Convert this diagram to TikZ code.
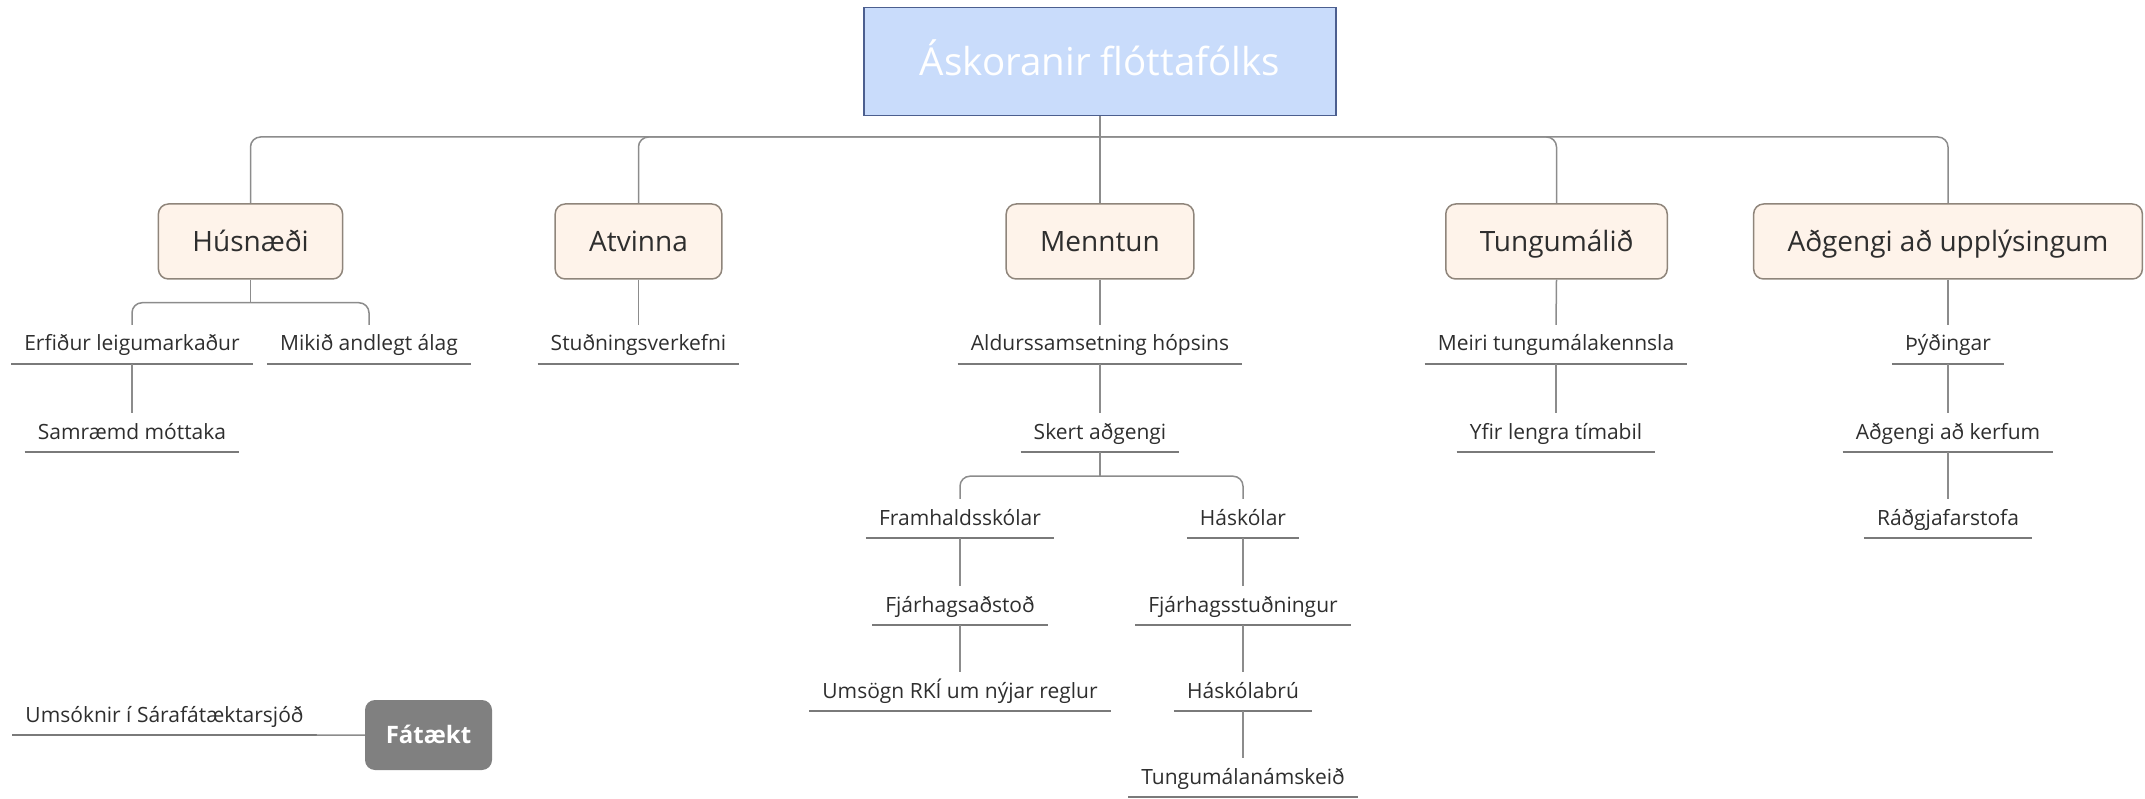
\documentclass[tikz,border=0pt]{standalone}
\usepackage{fontspec}
\setmainfont{Open Sans}
\definecolor{catfill}{HTML}{FEF3EA}
\definecolor{catborder}{HTML}{8F857B}
\definecolor{titlefill}{HTML}{C9DCFB}
\definecolor{titleborder}{HTML}{4C5F8F}
\definecolor{connc}{HTML}{8C8C8C}
\definecolor{ulc}{HTML}{7A7A7A}
\definecolor{txt}{HTML}{2E2E2E}
\definecolor{fatfill}{HTML}{808080}
\begin{document}
\begin{tikzpicture}[x=1pt,y=-1pt,
  titlebox/.style={draw=titleborder, fill=titlefill, line width=1.5pt, minimum width=472pt, minimum height=108pt,
    text=white, font={\fontsize{38.5}{44}\selectfont}, text height=33pt, text depth=5.5pt},
  cat/.style={draw=catborder, fill=catfill, rounded corners=10pt, line width=1.5pt, minimum height=75pt,
    inner xsep=34pt, text=txt, font={\fontsize{28}{33}\selectfont}, text height=25pt, text depth=5pt},
  leaf/.style={inner xsep=13pt, inner ysep=6pt, text height=20pt, text depth=7pt, text=txt,
    font={\fontsize{21}{25}\selectfont}},
  fatbox/.style={fill=fatfill, rounded corners=10pt, minimum width=127pt, minimum height=70pt,
    text=white, font={\fontsize{24}{28}\selectfont\bfseries}, text height=20pt, text depth=3pt},
  conn/.style={draw=connc, line width=1.5pt},
  bconn/.style={conn, rounded corners=10pt},
  uline/.style={draw=ulc, line width=2.5pt}]
\useasboundingbox (0,0) rectangle (2145,799);

% title and categories
\node[titlebox] (title) at (1100,61.5) {Áskoranir flóttafólks};
\coordinate (j) at (1100,137);
\node[cat] (hus) at (250.5,241.5) {Húsnæði};
\node[cat] (atv) at (638.5,241.5) {Atvinna};
\node[cat] (men) at (1100,241.5) {Menntun};
\node[cat] (tun) at (1556.5,241.5) {Tungumálið};
\node[cat] (adg) at (1948,241.5) {Aðgengi að upplýsingum};

% leaves
\node[leaf] (e1) at (132,344.5) {Erfiður leigumarkaður};
\node[leaf] (e2) at (369,344.5) {Mikið andlegt álag};
\node[leaf] (e3) at (132,432.5) {Samræmd móttaka};
\node[leaf] (a1) at (638.5,344.5) {Stuðningsverkefni};
\node[leaf] (m1) at (1100,344.5) {Aldurssamsetning hópsins};
\node[leaf] (m2) at (1100,432.5) {Skert aðgengi};
\node[leaf] (f1) at (960,518.5) {Framhaldsskólar};
\node[leaf] (f2) at (960,605.5) {Fjárhagsaðstoð};
\node[leaf] (f3) at (960,691.5) {Umsögn RKÍ um nýjar reglur};
\node[leaf] (h1) at (1243,518.5) {Háskólar};
\node[leaf] (h2) at (1243,605.5) {Fjárhagsstuðningur};
\node[leaf] (h3) at (1243,691.5) {Háskólabrú};
\node[leaf] (h4) at (1243,777.5) {Tungumálanámskeið};
\node[leaf] (t1) at (1556,344.5) {Meiri tungumálakennsla};
\node[leaf] (t2) at (1556,432.5) {Yfir lengra tímabil};
\node[leaf] (u1) at (1948,344.5) {Þýðingar};
\node[leaf] (u2) at (1948,432.5) {Aðgengi að kerfum};
\node[leaf] (u3) at (1948,518.5) {Ráðgjafarstofa};
\node[leaf] (p1) at (164.5,715.5) {Umsóknir í Sárafátæktarsjóð};
\node[fatbox] (fat) at (428.5,735) {Fátækt};

\foreach \n in {e1,e2,e3,a1,m1,m2,f1,f2,f3,h1,h2,h3,h4,t1,t2,u1,u2,u3,p1}
  \draw[uline] (\n.south west) -- (\n.south east);

% connectors from title
\draw[conn] (title.south) -- (j);
\foreach \c in {hus,atv,tun,adg}
  \draw[bconn] (j) -| (\c.north);
\draw[conn] (j) -- (men.north);

% Husnaedi
\draw[conn] (hus.south) -- ++(0,23) coordinate (hj);
\draw[bconn] (hj) -| (e1.north);
\draw[bconn] (hj) -| (e2.north);
\draw[conn] (e1.south) -- (e3.north);

% Atvinna
\draw[conn] (atv.south) -- (a1.north);

% Menntun
\draw[conn] (men.south) -- (m1.north);
\draw[conn] (m1.south) -- (m2.north);
\draw[conn] (m2.south) -- ++(0,24) coordinate (mj);
\draw[bconn] (mj) -| (f1.north);
\draw[bconn] (mj) -| (h1.north);
\draw[conn] (f1.south) -- (f2.north);
\draw[conn] (f2.south) -- (f3.north);
\draw[conn] (h1.south) -- (h2.north);
\draw[conn] (h2.south) -- (h3.north);
\draw[conn] (h3.south) -- (h4.north);

% Tungumalid
\draw[conn] (tun.south) -- (t1.north);
\draw[conn] (t1.south) -- (t2.north);

% Adgengi
\draw[conn] (adg.south) -- (u1.north);
\draw[conn] (u1.south) -- (u2.north);
\draw[conn] (u2.south) -- (u3.north);

% Fataekt
\draw[conn] (p1.south east) -- (fat.west);
\end{tikzpicture}
\end{document}
